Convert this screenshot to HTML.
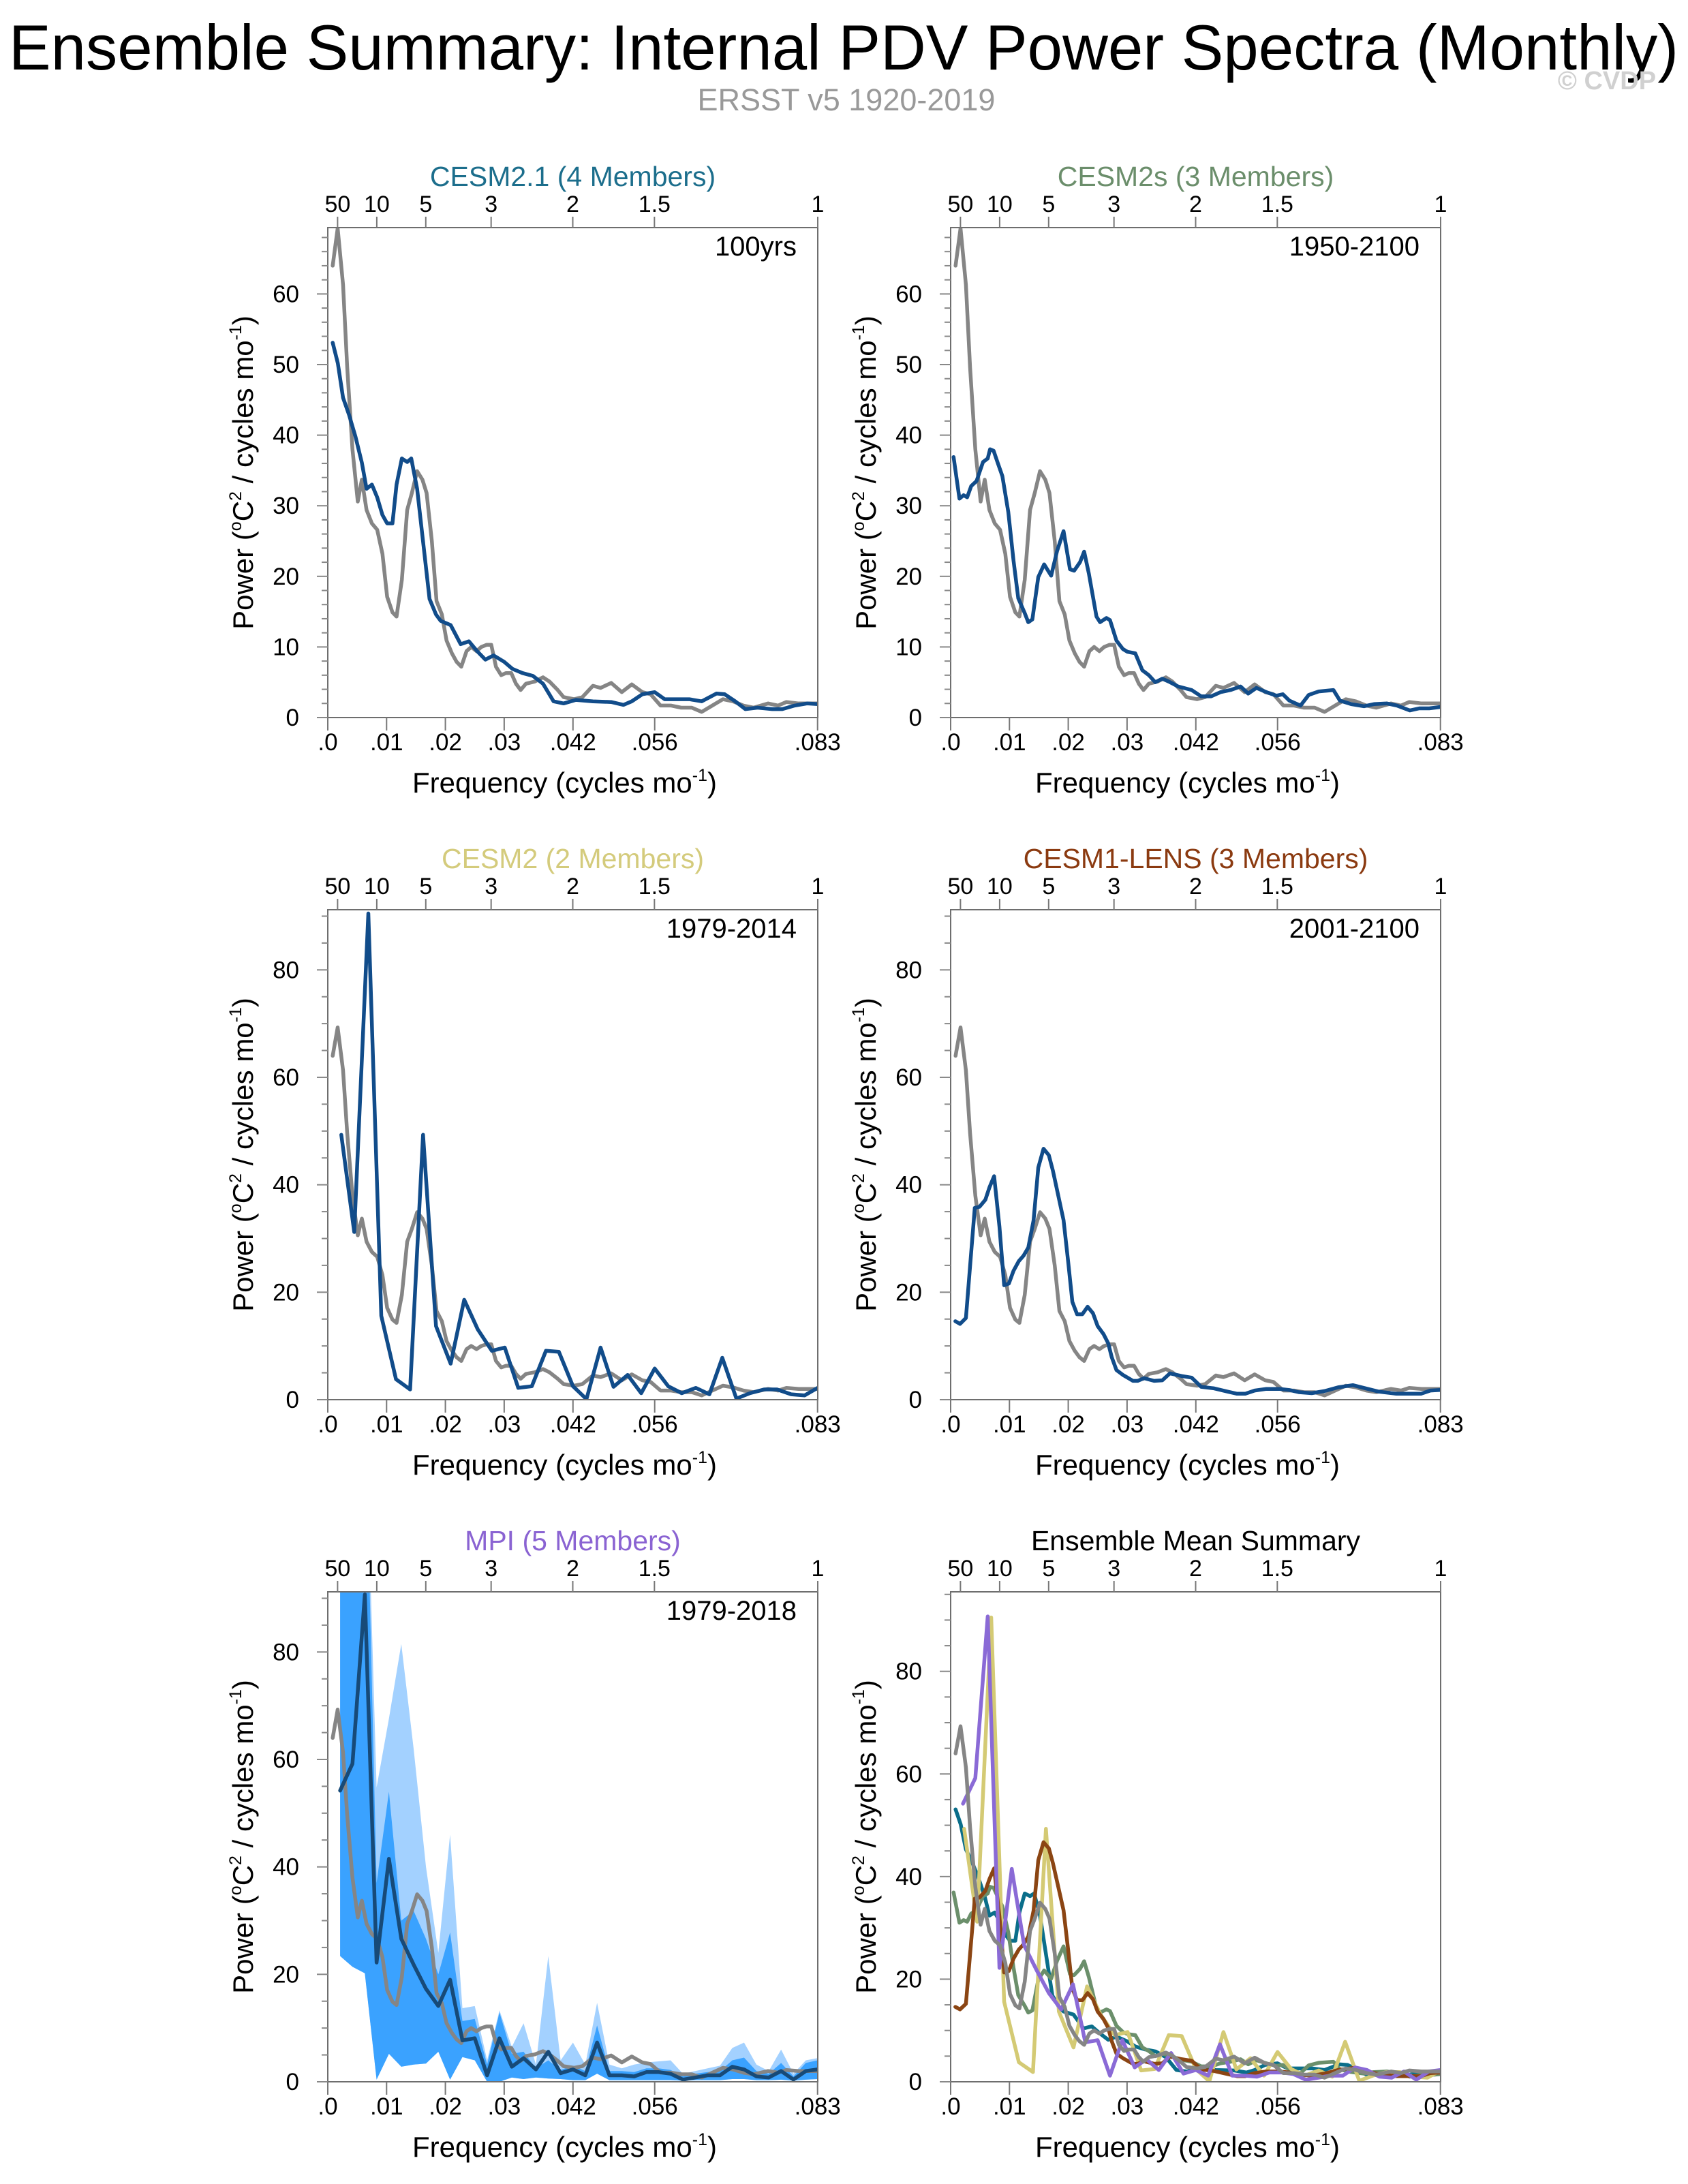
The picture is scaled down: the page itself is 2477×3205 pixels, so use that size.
<!DOCTYPE html>
<html><head><meta charset="utf-8"><style>
html,body{margin:0;padding:0;background:#fff;}
svg{display:block;font-family:"Liberation Sans",sans-serif;}
</style></head><body>
<svg id="chart" width="2477" height="3205" viewBox="0 0 2477 3205" xmlns="http://www.w3.org/2000/svg">
<text x="1238" y="102" font-size="94" text-anchor="middle" textLength="2450" lengthAdjust="spacingAndGlyphs">Ensemble Summary: Internal PDV Power Spectra (Monthly)</text>
<text x="1242" y="162" font-size="45" fill="#999" text-anchor="middle">ERSST v5 1920-2019</text>
<text x="2358" y="131" font-size="38" font-weight="bold" fill="#d0d0d0" text-anchor="middle">© CVDP</text>
</svg>
<script>
// ---- data ----
const obsFreq=[.00084,.00168,.0026,.0033,.0042,.0051,.0058,.0066,.0075,.0084,.0093,.0101,.011,.0117,.0126,.0135,.0143,.0152,.0161,.0168,.0177,.0185,.0194,.0202,.0211,.0219,.0227,.0236,.0244,.0253,.0261,.027,.0278,.0286,.0295,.0303,.0312,.032,.0328,.0337,.0352,.0366,.0377,.0391,.0401,.0419,.0433,.0451,.0464,.0482,.05,.0517,.0535,.0549,.0566,.0584,.0601,.0619,.0636,.0654,.0672,.0689,.0707,.0724,.0749,.0766,.078,.0801,.0833];
const obsPower=[64,69.3,61.3,49.6,38,30.6,33.7,29.4,27.5,26.6,23.2,17.1,14.9,14.3,19.5,29.4,31.8,34.9,33.7,31.8,25,16.5,14.6,10.9,9.1,7.9,7.2,9.4,10,9.4,10,10.3,10.3,7.2,6,6.3,6.3,4.8,3.9,4.8,5.1,5.7,5.1,3.9,2.9,2.6,2.9,4.5,4.2,4.9,3.6,4.7,3.6,3.3,1.7,1.7,1.4,1.4,0.8,1.7,2.6,2.3,1.7,1.4,2,1.7,2.2,2,2];
const cesm21Freq=[.00084,.0017,.0026,.0036,.0047,.0058,.0066,.0075,.0084,.0093,.0101,.011,.0117,.0126,.0135,.0142,.0152,.0161,.0173,.0184,.0192,.0209,.0226,.024,.0254,.0268,.0282,.03,.0314,.0331,.0349,.0366,.0384,.0401,.0422,.0451,.0482,.0503,.0517,.0535,.0556,.0573,.0594,.0615,.0636,.0661,.0675,.0693,.071,.0731,.0756,.0773,.0794,.0815,.0833];
const cesm21Power=[53.1,50.2,45.3,42.9,39.8,36.1,32.4,33,31.2,28.7,27.5,27.5,33,36.7,36.2,36.7,32.4,25.7,16.8,14.6,13.7,13.1,10.4,10.8,9.4,8.2,8.8,7.9,6.9,6.3,5.9,4.8,2.3,2,2.5,2.3,2.2,1.8,2.3,3.3,3.6,2.6,2.6,2.6,2.3,3.4,3.3,2.3,1.2,1.4,1.2,1.2,1.7,2,1.9];
const cesm2sFreq=[.0005,.0015,.0022,.0028,.0035,.0044,.0055,.0063,.0067,.0073,.008,.0088,.0098,.0107,.0115,.0126,.0132,.0139,.0149,.0159,.0171,.0181,.0192,.0203,.021,.022,.0227,.0235,.0248,.0254,.0265,.0271,.0282,.0293,.0301,.0314,.0326,.0337,.0348,.036,.0371,.0387,.041,.0426,.0443,.0459,.0476,.0493,.0506,.052,.0537,.0554,.0565,.0576,.0595,.0609,.0626,.0651,.0662,.0681,.0703,.072,.0742,.0759,.0781,.0797,.0814,.0833];
const cesm2sPower=[36.9,31,31.5,31.2,32.8,33.5,36.2,36.7,38,37.8,36.1,34.2,29.1,22.2,16.9,14.8,13.5,13.9,19.9,21.7,20.1,23.6,26.4,21,20.8,22,23.5,20.4,14.3,13.5,14.1,13.8,10.9,9.7,9.3,9.1,6.7,6,5,5.5,5.1,4.4,3.9,3,3,3.6,3.9,4.4,3.4,4.2,3.6,3.1,3.3,2.4,1.7,3.2,3.7,3.9,2.4,1.9,1.6,1.9,2,1.7,1,1.3,1.3,1.5];
const cesm2Freq=[.0023,.0045,.0069,.0091,.0116,.014,.0162,.0184,.0209,.0232,.0255,.0279,.0301,.0324,.0347,.0371,.0393,.0417,.044,.0464,.0486,.051,.0533,.0556,.0579,.0602,.0626,.0649,.0671,.0695,.0718,.0742,.0764,.0788,.0811,.0833];
const cesm2Power=[49.3,31.2,90.5,15.6,3.8,1.9,49.3,13.7,6.7,18.6,13.1,9.1,9.7,2.2,2.5,9.1,8.9,2.5,0.1,9.7,2.4,4.6,1.2,5.8,2.5,1.2,2.2,1,7.8,0.2,1.2,1.9,1.9,1,0.8,2.2];
const lensFreq=[.0008,.0016,.0026,.0034,.0041,.0049,.0059,.0066,.0074,.0083,.0091,.0099,.0107,.0116,.0124,.0132,.0141,.0149,.0158,.0167,.0174,.0183,.0192,.02,.0207,.0215,.0224,.0233,.0242,.025,.026,.0268,.0274,.0282,.0293,.031,.0318,.0329,.0346,.036,.0373,.0393,.041,.0426,.0448,.0471,.0487,.0501,.0517,.0537,.0559,.0576,.0592,.0614,.0636,.0659,.0684,.0706,.0728,.0758,.0781,.08,.0816,.0833];
const lensPower=[14.6,14.1,15.2,26.1,35.7,35.9,37.2,39.5,41.6,32.2,21.3,21.6,24,25.8,26.8,28.3,33.4,43.2,46.7,45.5,42.6,38,33.4,25.5,18.2,15.9,15.9,17.3,16.1,13.7,12.2,10.5,7.9,5.5,4.6,3.5,3.5,4,3.5,3.6,4.9,4.4,4.1,2.4,2.1,1.5,1.1,1.1,1.7,2,2,1.8,1.4,1.2,1.6,2.3,2.7,2.1,1.5,1.1,1.1,1.1,1.7,1.8];
const mpiFreq=[.0021,.0042,.0063,.0083,.0104,.0125,.0146,.0167,.0188,.0208,.0229,.025,.0271,.0292,.0313,.0333,.0354,.0375,.0396,.0417,.0438,.0458,.0479,.05,.0521,.0542,.0563,.0583,.0604,.0625,.0646,.0667,.0688,.0708,.0729,.075,.0771,.0792,.0813,.0833];
const mpiPower=[54.2,59.2,90.7,22.2,41.5,26.6,21.8,17.3,14.1,19,7.7,8.1,1.2,8.1,2.8,4.4,2.3,5.6,1.6,2.3,1.2,7.3,1.2,1.2,1,1.8,1.8,1.5,0.4,0.8,1.2,1.2,2.8,2.3,1,0.8,2,0.4,2,2.3];
const mpiMaxPower=[130,130,130,54.8,67.6,81.5,62,40,24,46,13.7,14.1,4,13.3,6.5,10.9,3.2,23.4,4,7.3,3.2,14.7,3.2,2.5,3.2,3.6,3.8,4,1.5,2,2.5,3,6.3,7.3,3.2,2,6,1.5,4,4.4];
const mpiUpperPower=[130,130,130,37,54,30,31.8,26.6,20,27.8,11.3,11.7,3.2,12.9,5.2,5.6,2.5,4,2.2,3,2,10.5,2,2,1.8,2.5,2.5,2.2,1,1.5,1.8,2,4,4.5,2,1.5,3.5,1,3.5,4];
const mpiMinPower=[23.4,21.4,20.2,0.4,5.2,2.8,3.2,3.4,5.6,0.4,4.6,4,0,0,0.8,0.5,0.8,0.6,0.5,0.3,0.3,1.5,0.3,0.3,0.3,0.3,0.3,0.3,0.2,0.3,0.3,0.3,0.5,0.5,0.3,0.3,0.4,0.2,0.4,0.5];
const bottomTickVals=[0,.01,.02,.03,.0417,.0556,.0833];
const bottomTickLabels=[".0",".01",".02",".03",".042",".056",".083"];
const periodTickVals=[50,10,5,3,2,1.5,1];
const periodTickLabels=["50","10","5","3","2","1.5","1"];

// ---- drawing ----
const NS="http://www.w3.org/2000/svg";
const svg=document.getElementById('chart');
const W=719,H=719,XMAX=1/12;
const BLUE="#114c8a",GRAY="#858585";
function mk(tag,attrs,parent){const e=document.createElementNS(NS,tag);for(const k in attrs)e.setAttribute(k,attrs[k]);(parent||svg).appendChild(e);return e;}
let clipId=0;
function panel(o){
  const g=mk('g',{});
  
  
  const L=o.x,T=o.y,B=T+H,R=L+W;
  const sx=f=>L+f/XMAX*W, sy=v=>B-v/o.ymax*H;
  const cid='clip'+(clipId++);
  const cp=mk('clipPath',{id:cid},g);mk('rect',{x:L,y:T,width:W,height:H},cp);
  const plot=mk('g',{'clip-path':'url(#'+cid+')'},g);
  
  
  if(o.bands){
    const bl=(hi,lo,col,nm)=>{let d='M';for(let i=0;i<mpiFreq.length;i++)d+=sx(mpiFreq[i])+','+sy(hi[i])+' L';for(let i=mpiFreq.length-1;i>=0;i--)d+=sx(mpiFreq[i])+','+sy(lo[i])+(i?' L':' Z');const p=mk('path',{d:d,fill:col,stroke:'none'},plot);
      
      };
    bl(mpiMaxPower,mpiMinPower,'#a3d1ff','mpi-spread-band');
    bl(mpiUpperPower,mpiMinPower,'#3aa2ff','mpi-inner-band');
  }
  o.series.forEach(s=>{
    const pts=s.f.map((f,i)=>sx(f).toFixed(1)+','+sy(s.v[i]).toFixed(1)).join(' ');
    const pl=mk('polyline',{points:pts,fill:'none',stroke:s.c,'stroke-width':5.5,'stroke-linejoin':'round','stroke-linecap':'round'},plot);
    
    
  });
  mk('rect',{x:L,y:T,width:W,height:H,fill:'none',stroke:'#6e6e6e','stroke-width':2},g);
  for(let v=0;v<=o.ymax+0.001;v+=o.minor){
    const isMaj=Math.abs(v/o.major-Math.round(v/o.major))<1e-6;
    mk('line',{x1:L-(isMaj?16:9),x2:L,y1:sy(v),y2:sy(v),stroke:'#888','stroke-width':2},g);
    if(isMaj){const t=mk('text',{x:L-42,y:sy(v)+12,'font-size':35,'text-anchor':'end'},g);t.textContent=String(v);
      
      }
  }
  bottomTickVals.forEach((f,i)=>{
    mk('line',{x1:sx(f),x2:sx(f),y1:B,y2:B+19,stroke:'#777','stroke-width':2},g);
    const t=mk('text',{x:sx(f),y:B+48,'font-size':35,'text-anchor':'middle'},g);t.textContent=bottomTickLabels[i];
    
    
  });
  periodTickVals.forEach((p,i)=>{
    const f=1/(12*p);
    mk('line',{x1:sx(f),x2:sx(f),y1:T,y2:T-16,stroke:'#777','stroke-width':2},g);
    const t=mk('text',{x:sx(f),y:T-23,'font-size':34,'text-anchor':'middle'},g);t.textContent=periodTickLabels[i];
    
    
  });
  const tt=mk('text',{x:L+W/2,y:T-61,'font-size':41,'text-anchor':'middle',fill:o.tcol},g);tt.textContent=o.title;
  
  
  if(o.period){const pt=mk('text',{x:R-31,y:T+41,'font-size':40,'text-anchor':'end'},g);pt.textContent=o.period;
    
    }
  const xt=mk('text',{x:L+W/2-12,y:B+110,'font-size':42,'text-anchor':'middle'},g);
  xt.innerHTML='Frequency (cycles mo<tspan dy="-17" font-size="25">-1</tspan><tspan dy="17">)</tspan>';
  
  
  const yt=mk('text',{x:0,y:0,'font-size':42,'text-anchor':'middle',transform:'translate('+(L-110)+','+(T+H/2)+') rotate(-90)'},g);
  yt.innerHTML='Power (<tspan dy="-17" font-size="25">o</tspan><tspan dy="17">C</tspan><tspan dy="-17" font-size="25">2</tspan><tspan dy="17"> / cycles mo</tspan><tspan dy="-17" font-size="25">-1</tspan><tspan dy="17">)</tspan>';
  
  
}
const obs={f:obsFreq,v:obsPower,c:GRAY,n:'obs-line'};
const C1=481,C2=1395,R1=334,R2=1335,R3=2336;
panel({name:'panel-cesm21',x:C1,y:R1,ymax:69.4,major:10,minor:2,title:'CESM2.1 (4 Members)',tcol:'#1c6e8c',period:'100yrs',series:[obs,{f:cesm21Freq,v:cesm21Power,c:BLUE,n:'cesm21-line'}]});
panel({name:'panel-cesm2s',x:C2,y:R1,ymax:69.4,major:10,minor:2,title:'CESM2s (3 Members)',tcol:'#6b8e6b',period:'1950-2100',series:[obs,{f:cesm2sFreq,v:cesm2sPower,c:BLUE,n:'cesm2s-line'}]});
panel({name:'panel-cesm2',x:C1,y:R2,ymax:91.2,major:20,minor:5,title:'CESM2 (2 Members)',tcol:'#d4cb7c',period:'1979-2014',series:[obs,{f:cesm2Freq,v:cesm2Power,c:BLUE,n:'cesm2-line'}]});
panel({name:'panel-cesm1-lens',x:C2,y:R2,ymax:91.2,major:20,minor:5,title:'CESM1-LENS (3 Members)',tcol:'#8b3a10',period:'2001-2100',series:[obs,{f:lensFreq,v:lensPower,c:BLUE,n:'lens-line'}]});
panel({name:'panel-mpi',x:C1,y:R3,ymax:91.2,major:20,minor:5,title:'MPI (5 Members)',tcol:'#8a63d2',period:'1979-2018',bands:true,series:[obs,{f:mpiFreq,v:mpiPower,c:'#174a78',n:'mpi-mean-line'}]});
panel({name:'panel-ensemble-summary',x:C2,y:R3,ymax:95.5,major:20,minor:5,title:'Ensemble Mean Summary',tcol:'#000',period:null,series:[
 {f:cesm21Freq,v:cesm21Power,c:'#0a6e8a',n:'summary-cesm21'},
 {f:cesm2sFreq,v:cesm2sPower,c:'#6b8f6b',n:'summary-cesm2s'},
 {f:cesm2Freq,v:cesm2Power,c:'#d4ca74',n:'summary-cesm2'},
 {f:lensFreq,v:lensPower,c:'#8b4513',n:'summary-lens'},
 {f:mpiFreq,v:mpiPower,c:'#8a6ad6',n:'summary-mpi'},
 {f:obsFreq,v:obsPower,c:GRAY,n:'summary-obs'}]});
</script>
</body></html>
